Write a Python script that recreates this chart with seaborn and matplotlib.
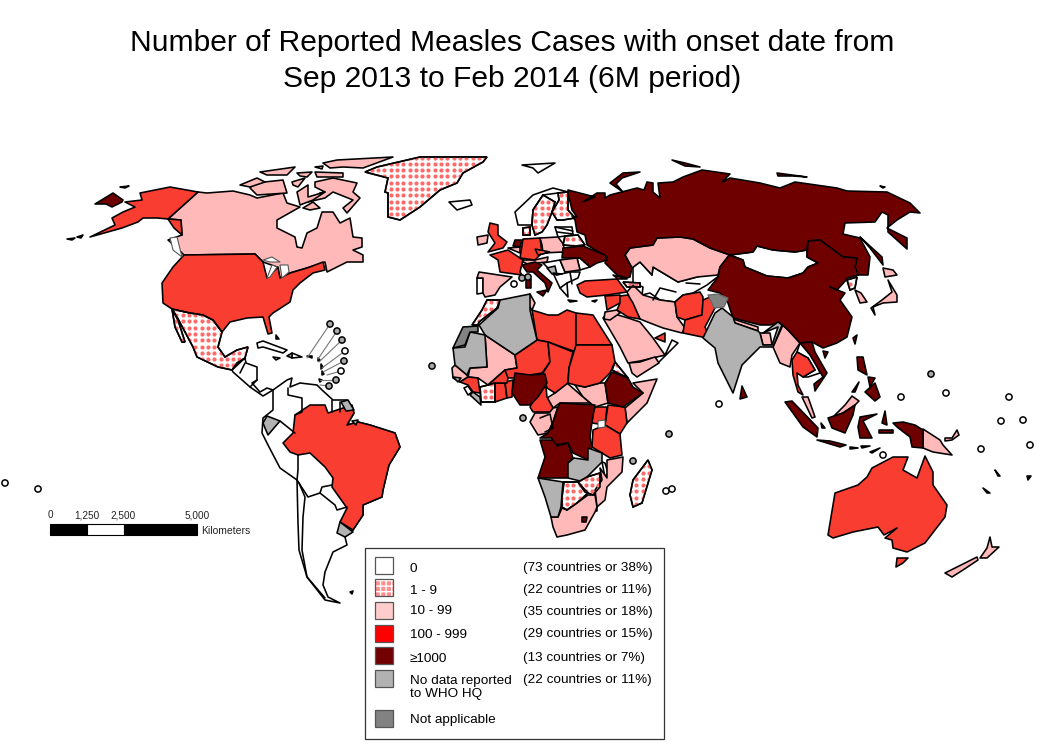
import numpy as np
import pandas as pd
import matplotlib
matplotlib.use("Agg")
import matplotlib.pyplot as plt
from matplotlib.patches import Polygon, Rectangle
import seaborn as sns

# Outlines, in picture pixels (x, y)
zero_shapes = [
    # South America outline, countries get drawn on top
    [(273,390),(287,380),(292,378),(290,387),(300,383),(317,385),(322,390),(333,400),(347,400),(354,413),(347,425),(358,422),(370,425),(395,433),(400,447),(389,465),(383,490),(382,497),(363,505),(363,515),(353,530),(345,537),(347,545),(333,552),(325,572),(323,585),(328,597),(340,603),(325,600),(307,577),(299,550),(298,523),(297,480),(280,468),(268,445),(262,433),(263,418),(273,410)],
    # Central America
    [(232,370),(245,358),(246,363),(257,367),(257,380),(252,383),(260,392),(267,388),(273,390),(263,396),(250,387),(233,372)],
    # Cuba, Hispaniola east, Jamaica, Puerto Rico
    [(257,343),(263,341),(287,350),(283,353),(263,347),(258,348)],
    [(292,353),(302,357),(292,358)],
    [(273,357),(280,358),(276,360)],
    [(307,356),(312,356),(312,358)],
    # Iceland, Svalbard, Norway
    [(449,202),(470,200),(472,205),(457,210)],
    [(522,165),(555,163),(538,173),(533,168)],
    [(515,212),(533,195),(553,188),(568,192),(558,193),(543,195),(533,210),(532,225),(518,225)],
    # Portugal, Baltics, Balkans, Central Asia
    [(477,278),(483,278),(483,293),(477,294)],
    [(555,227),(572,227),(573,235),(558,237)],
    [(543,263),(560,260),(565,272),(580,272),(578,278),(567,283),(568,297),(560,288),(553,273)],
    [(580,258),(590,267),(580,270),(577,258)],
    [(633,267),(640,262),(652,275),(653,267),(678,282),(697,277),(710,273),(720,275),(707,285),(693,293),(683,295),(675,302),(660,300),(650,293),(642,295),(643,287),(633,283)],
    # Mongolia
    [(730,255),(753,252),(757,246),(773,250),(795,252),(807,250),(807,257),(818,263),(808,267),(803,273),(788,278),(767,276),(745,267),(743,260)],
    # Oman, Laos and Cambodia
    [(665,355),(672,340),(678,343),(658,363),(655,357)],
    [(800,343),(812,352),(820,373),(808,377),(803,377),(815,370),(808,358),(797,352)],
    # Sierra Leone, Malawi
    [(464,388),(468,386),(472,392),(468,395)],
    [(602,462),(605,463),(608,473),(605,477)],
    # Swaziland
    [(593,507),(597,507),(597,511),(593,511)],
]

hatched_shapes = [
    # Greenland
    [(365,172),(377,167),(420,157),(487,157),(483,162),(463,173),(457,183),(440,190),(420,207),(400,220),(388,217),(388,193),(385,192),(388,178)],
    # Mexico and Baja
    [(172,309),(190,313),(203,315),(213,320),(222,332),(218,347),(225,357),(237,350),(248,347),(245,358),(237,363),(232,370),(218,367),(197,357),(193,347),(177,317)],
    [(172,309),(178,320),(185,342),(182,342),(175,327)],
    # Morocco
    [(472,325),(482,310),(487,300),(500,300),(497,308),(479,322),(478,325)],
    # Sweden, Finland, Belarus, Denmark, Czechia
    [(533,210),(543,195),(555,202),(552,212),(547,225),(542,232),(535,235),(532,225)],
    [(558,193),(568,192),(568,210),(575,218),(563,220),(557,220),(552,212),(559,200)],
    [(565,236),(578,235),(585,245),(575,246),(563,245)],
    [(523,228),(530,227),(530,235),(523,235)],
    [(535,249),(550,252),(538,255)],
    # Georgia, Armenia
    [(623,282),(640,283),(640,287),(627,287)],
    # Cote d'Ivoire, Eritrea, Botswana, Zimbabwe, Madagascar
    [(480,387),(488,385),(495,383),(495,402),(481,402)],
    [(612,370),(615,362),(628,378)],
    [(564,482),(578,482),(588,493),(577,503),(567,510),(562,507),(562,497)],
    [(578,482),(587,477),(600,473),(600,487),(593,495),(585,492)],
    [(630,495),(633,480),(648,460),(652,470),(642,503),(633,507)],
    # North Korea
    [(847,280),(857,277),(855,288),(850,290)],
]

pink_shapes = [
    # Canada mainland, Arctic islands
    [(198,192),(207,193),(233,191),(250,195),(257,198),(283,193),(287,203),(300,207),(277,220),(277,228),(295,237),(297,247),(302,248),(307,233),(317,228),(322,212),(333,212),(340,223),(350,218),(353,237),(362,238),(362,247),(353,250),(363,255),(363,262),(353,262),(347,262),(327,272),(325,262),(317,265),(290,273),(280,278),(277,267),(263,262),(255,254),(184,255),(177,248),(168,240),(182,235),(181,220),(168,219)],
    [(315,182),(333,178),(357,183),(353,192),(360,198),(347,213),(343,208),(353,200),(333,192),(325,198),(308,202),(320,193),(325,192),(315,187)],
    [(255,183),(283,180),(287,193),(257,195),(250,188)],
    [(240,185),(257,178),(265,182),(250,187)],
    [(292,182),(305,178),(298,187),(293,185)],
    [(260,172),(295,167),(287,175),(267,175)],
    [(297,173),(312,172),(307,177),(300,176)],
    [(315,172),(343,173),(343,177),(317,177)],
    [(315,167),(323,166),(322,169)],
    [(323,163),(337,160),(393,157),(363,168),(343,167),(330,168)],
    [(297,192),(308,185),(308,197),(325,192),(313,200),(300,205)],
    [(303,208),(313,202),(320,208),(310,210)],
    # Spain, Ireland, Poland, Belgium, Austria, Romania
    [(479,272),(512,277),(500,287),(495,295),(485,297),(483,293),(483,278),(477,278)],
    [(477,237),(488,235),(487,243),(478,245)],
    [(540,238),(558,237),(564,245),(563,252),(543,253),(542,245)],
    [(508,248),(520,247),(520,253)],
    [(520,260),(535,260),(548,257),(547,262),(527,264)],
    [(560,260),(577,258),(580,270),(565,272)],
    # Tunisia, Mali, Senegal
    [(530,294),(535,303),(532,310),(527,303)],
    [(485,335),(515,355),(517,368),(505,370),(488,385),(478,378),(468,377),(470,368),(487,367)],
    [(452,368),(455,365),(467,375),(468,377),(460,382),(453,378)],
    # Middle Africa
    [(575,385),(585,387),(600,383),(605,383),(608,403),(595,407),(583,397)],
    [(547,398),(555,393),(567,383),(583,397),(590,403),(560,403),(553,408)],
    [(530,422),(535,413),(548,413),(553,408),(558,407),(553,422),(548,433),(538,435)],
    [(633,383),(657,379),(647,403),(627,423),(625,408),(643,393)],
    [(623,457),(622,472),(607,487),(605,500),(597,507),(595,490),(602,480),(600,468),(607,478),(607,460)],
    [(551,517),(558,517),(562,508),(567,510),(577,503),(588,495),(595,495),(597,507),(595,512),(585,530),(567,535),(557,537),(553,527)],
    # Middle East
    [(603,318),(608,312),(628,318),(640,322),(653,338),(665,355),(640,361),(628,363),(620,347)],
    [(605,312),(617,310),(620,313),(610,320),(604,319)],
    [(633,285),(643,295),(660,300),(675,302),(677,317),(685,328),(682,333),(663,328),(650,323),(640,319),(632,303),(627,292)],
    [(629,363),(640,362),(655,357),(659,363),(637,377),(632,373)],
    # Kazakhstan
    [(630,248),(653,245),(657,238),(680,237),(693,239),(710,248),(730,255),(720,267),(718,275),(697,277),(678,282),(653,267),(652,275),(640,262),(632,268),(625,255)],
    # Nepal, Bangladesh, Myanmar, Peninsular Malaysia
    [(733,319),(758,327),(758,331),(735,323)],
    [(760,333),(770,333),(772,345),(763,345)],
    [(783,325),(790,332),(800,343),(792,355),(790,367),(780,363),(773,347)],
    [(802,397),(808,397),(815,417),(812,418)],
    # Sabah and Sarawak, Papua New Guinea, New Britain
    [(834,416),(845,405),(852,396),(859,401),(855,405),(843,413)],
    [(923,429),(940,440),(943,445),(952,455),(933,452),(923,448)],
    [(945,438),(952,438),(957,430),(959,435),(952,440),(945,441)],
    # South Korea, Japan
    [(855,290),(861,293),(867,302),(860,303)],
    [(888,280),(897,295),(897,302),(883,303),(873,307),(875,315),(871,308),(882,300),(892,292)],
    [(883,268),(893,270),(897,275),(885,277)],
    # New Zealand
    [(945,573),(977,557),(978,560),(963,570),(952,577)],
    [(980,558),(987,548),(990,537),(992,547),(999,547),(987,558)],
]

red_shapes = [
    # USA, Alaska
    [(184,255),(255,254),(263,262),(267,278),(278,267),(280,278),(290,273),(307,268),(323,262),(325,270),(313,273),(300,283),(293,290),(290,302),(273,313),(269,317),(272,333),(268,334),(263,317),(247,318),(230,322),(222,332),(213,320),(203,315),(190,313),(172,309),(163,303),(162,283),(173,267)],
    [(198,192),(168,219),(157,218),(143,218),(138,222),(122,228),(90,237),(115,225),(112,218),(123,212),(135,207),(125,202),(142,200),(140,193),(170,187)],
    [(168,219),(181,220),(182,235),(174,228)],
    # Brazil
    [(295,415),(310,405),(325,405),(328,413),(352,405),(354,413),(347,425),(358,422),(370,425),(395,433),(400,447),(389,465),(383,490),(382,497),(363,505),(363,515),(353,530),(340,522),(347,508),(332,487),(333,478),(325,467),(310,453),(298,455),(290,452),(283,443),(293,433)],
    # UK, France, Germany, Turkey, Syria, Iraq, UAE
    [(490,223),(498,225),(498,235),(507,242),(503,248),(488,252),(495,243),(488,232)],
    [(490,255),(508,250),(523,260),(520,272),(522,275),(500,272),(498,260)],
    [(523,239),(540,238),(542,253),(535,260),(520,258)],
    [(577,285),(585,281),(617,279),(627,292),(607,295),(587,297),(580,293)],
    [(605,296),(620,295),(620,303),(607,310)],
    [(620,296),(628,295),(633,303),(640,319),(628,317),(617,310),(620,303)],
    [(655,338),(665,333),(665,342)],
    [(613,275),(627,279),(618,279)],
    # Afghanistan, Pakistan
    [(675,302),(683,295),(700,292),(703,297),(703,303),(702,315),(685,320),(677,317)],
    [(685,320),(702,315),(703,300),(710,297),(715,308),(705,327),(710,338),(702,337),(683,333)],
    # North and Central Africa
    [(532,310),(548,315),(558,315),(567,310),(576,313),(576,352),(548,342),(537,340)],
    [(537,340),(548,342),(550,362),(542,373),(530,375),(517,378),(505,378),(505,370),(517,368),(515,355)],
    [(548,342),(573,352),(569,368),(568,383),(555,393),(547,388),(543,373),(550,362)],
    [(576,313),(593,315),(612,345),(576,345)],
    [(576,345),(612,345),(615,362),(610,373),(600,383),(585,387),(575,385),(568,383),(569,368)],
    # Cameroon, Ghana, Benin, Burkina, Guinea
    [(546,387),(547,397),(553,408),(550,412),(533,412),(530,407),(535,398),(542,388)],
    [(495,383),(505,383),(507,398),(495,402)],
    [(505,382),(513,380),(512,397),(507,398)],
    [(488,385),(505,370),(508,378),(507,383),(495,383)],
    [(460,382),(468,377),(478,378),(480,393),(473,392),(468,385)],
    # Kenya, Uganda, Tanzania
    [(608,405),(625,407),(627,423),(620,434),(605,425)],
    [(595,407),(607,407),(605,425),(592,423),(593,413)],
    [(593,430),(605,425),(620,434),(622,455),(610,458),(602,453),(592,447)],
    # Thailand
    [(797,352),(808,358),(815,370),(803,377),(797,373),(798,385),(803,395),(798,392),(793,375),(792,360)],
    # Australia, Tasmania
    [(828,535),(835,493),(858,485),(867,477),(872,468),(893,457),(908,457),(903,470),(917,478),(925,456),(933,472),(933,485),(947,505),(945,517),(925,543),(907,552),(893,548),(892,540),(885,538),(897,528),(884,535),(878,527),(853,532),(833,538)],
    [(897,558),(908,558),(903,563),(896,567)],
]

dark_shapes = [
    # Chukotka tip and small Pacific pieces
    [(95,204),(113,193),(123,200),(122,202),(112,207),(106,204)],
    [(67,239),(75,238),(72,240)],
    [(77,237),(83,235),(81,238)],
    [(120,187),(129,186),(125,188)],
    # Russia and its islands
    [(568,190),(595,197),(583,202),(597,193),(605,193),(605,198),(610,195),(637,188),(644,190),(647,182),(653,183),(653,192),(660,198),(658,183),(673,182),(683,177),(702,170),(730,174),(722,182),(730,178),(760,183),(780,188),(795,182),(837,188),(847,191),(887,192),(910,203),(920,213),(910,212),(897,220),(887,228),(907,238),(907,249),(888,232),(888,215),(882,212),(875,222),(845,223),(843,234),(860,238),(870,257),(868,275),(858,275),(855,267),(857,258),(843,257),(820,240),(808,241),(807,250),(795,252),(773,250),(757,246),(753,252),(730,255),(710,248),(693,239),(680,237),(657,238),(653,245),(630,248),(625,255),(632,268),(630,277),(627,278),(617,275),(605,263),(607,257),(587,245),(585,235),(577,232),(575,220),(572,216),(577,217),(572,210),(568,193)],
    [(610,183),(623,173),(640,172),(622,178),(616,184),(623,192)],
    [(672,160),(685,163),(700,167),(685,166)],
    [(777,173),(807,177),(793,176),(778,176)],
    [(860,237),(882,257),(883,265),(870,248)],
    [(880,186),(885,187),(883,188)],
    # China
    [(729,255),(743,260),(745,267),(767,276),(788,278),(803,273),(808,267),(818,263),(807,257),(808,241),(820,240),(843,257),(857,258),(855,267),(858,275),(848,278),(837,290),(830,287),(845,293),(840,300),(852,317),(847,337),(837,343),(823,348),(812,342),(800,343),(788,330),(780,323),(770,325),(760,325),(733,318),(728,303),(720,293),(708,290),(718,277),(720,267)],
    # Europe: Netherlands, Italy, Sicily, Sardinia, Ukraine
    [(515,240),(522,240),(520,247),(513,246)],
    [(522,265),(535,262),(542,265),(537,270),(552,283),(548,292),(545,283),(533,272),(527,272)],
    [(537,292),(547,290),(543,296)],
    [(526,280),(531,279),(531,288),(526,288)],
    [(563,248),(583,246),(605,255),(607,260),(597,263),(590,267),(580,258),(562,258)],
    # Africa: Nigeria, Ethiopia, DRC, Angola, Lesotho
    [(515,373),(530,375),(545,374),(547,383),(538,397),(530,405),(520,405),(512,393)],
    [(605,383),(612,372),(628,378),(633,387),(643,393),(623,407),(608,403)],
    [(560,403),(595,405),(592,422),(590,437),(592,447),(588,460),(573,453),(568,443),(553,445),(552,438),(540,438),(548,433),(553,422),(558,407)],
    [(540,440),(553,440),(557,446),(568,443),(573,458),(568,463),(568,478),(538,478),(545,457)],
    [(582,517),(587,517),(586,522),(582,522)],
    # Asia: Vietnam, Sri Lanka, Sumatra, Java, Borneo, Sulawesi, Philippines, Taiwan, Hainan
    [(800,343),(812,342),(815,352),(827,373),(815,391),(814,384),(823,377),(810,355)],
    [(742,386),(747,397),(740,399)],
    [(785,402),(792,401),(818,428),(817,437),(803,427)],
    [(817,440),(830,441),(846,445),(840,447)],
    [(828,418),(834,416),(843,413),(855,405),(853,415),(845,433),(832,428)],
    [(860,417),(877,414),(863,421),(872,438),(860,438),(858,427)],
    [(857,357),(863,357),(867,375),(858,370)],
    [(865,392),(875,383),(880,397),(875,401)],
    [(868,377),(875,378),(870,387)],
    [(852,392),(859,382),(855,392)],
    [(853,338),(857,335),(855,344)],
    [(823,351),(828,352),(825,358)],
    [(882,423),(885,411),(887,425)],
    [(879,430),(893,430),(893,433),(879,433)],
    # West Papua, Lesser Sunda pieces
    [(893,423),(903,422),(915,425),(923,430),(923,448),(912,447),(910,437),(897,427)],
    [(850,447),(858,448),(850,449)],
    [(861,446),(870,446),(862,448)],
    [(870,452),(880,448),(872,453)],
    [(821,423),(825,428),(822,428)],
]

grey_shapes = [
    # Algeria, Mauritania, Namibia, Zambia
    [(479,325),(498,308),(500,300),(530,294),(530,310),(537,340),(515,355),(485,335)],
    [(453,348),(465,347),(470,332),(485,335),(487,367),(470,368),(467,375),(455,365)],
    [(538,478),(563,482),(561,507),(558,517),(551,517),(545,497)],
    [(588,448),(602,453),(602,462),(587,477),(580,481),(568,478),(568,463),(574,458),(588,460)],
    # Liberia, Guinea-Bissau
    [(470,395),(473,392),(480,397),(481,405)],
    [(453,377),(461,378),(458,382)],
    # Ecuador, French Guiana, Uruguay, Haiti
    [(263,423),(267,416),(280,421),(268,435),(265,428)],
    [(341,402),(348,400),(354,410),(346,411)],
    [(352,421),(358,420),(356,425)],
    [(340,522),(353,532),(345,537),(337,533)],
    [(287,356),(292,353),(292,358)],
    # India, Bosnia area, Bhutan area
    [(703,338),(715,313),(722,308),(733,317),(735,323),(758,331),(760,333),(763,345),(772,345),(778,327),(763,333),(778,322),(782,325),(773,347),(760,347),(742,365),(733,393),(718,363),(715,348)],
    [(547,268),(555,266),(557,275),(552,274)],
]

na_shapes = [
    # Western Sahara
    [(453,348),(463,327),(478,326),(478,332),(470,332),(465,345)],
]

disputed_shapes = [
    # Kashmir
    [(708,295),(718,294),(728,298),(724,307),(714,308)],
]

lake_shapes = [
    # BC coast, Great Lakes, Lake Victoria
    [(170,238),(177,237),(182,257),(173,250)],
    [(263,260),(272,257),(280,262),(270,262)],
    [(267,278),(272,265),(277,267),(270,277)],
    [(280,265),(288,265),(289,272),(282,278)],
    [(598,421),(605,420),(605,427),(598,428)],
]

black_bits = [
    # Falklands, Crete, Cyprus, New Caledonia, Vanuatu, Fiji, Bahamas, Lesser Antilles
    [(350,592),(353,591),(352,594)],
    [(568,300),(577,301),(570,302)],
    [(592,301),(597,300),(595,302)],
    [(983,488),(990,493),(987,493)],
    [(995,470),(1000,476),(998,476)],
    [(1027,476),(1031,476),(1028,480)],
    [(276,335),(279,339),(276,339)],
    [(318,358),(320,360),(318,361)],
    [(321,364),(323,367),(321,369)],
    [(322,371),(324,374),(322,375)],
    [(319,379),(322,380),(320,382)],
]

border_lines = [
    # South America
    [(288,388),(288,395),(302,398),(302,412),(295,415)],
    [(280,421),(295,433)],
    [(298,455),(298,470),(297,480)],
    [(297,480),(308,497),(320,493),(322,487),(332,485)],
    [(320,493),(335,505),(337,510),(347,507)],
    [(299,483),(305,497),(303,517),(302,550),(307,577),(325,598)],
    [(332,400),(332,412)],
    [(340,402),(340,412)],
    # Central America
    [(240,373),(245,363)],
    [(250,387),(257,380)],
    # Europe and Africa inner lines
    [(540,418),(550,414),(553,428),(545,432)],
    [(557,275),(570,272),(572,284)],
    [(553,273),(562,274)],
    [(560,288),(567,283)],
    [(555,227),(573,231)],
    [(557,232),(573,234)],
    [(653,300),(660,288),(676,292)],
    [(686,283),(700,284)],
]

# x, y, kind of the small island markers
island_x = [330,337,342,345,344,341,336,329, 432,523,669,633,666,672, 931,901,946,1009,1001,1023,1030,981,883,719, 5,38, 514,522,528]
island_y = [324,331,340,351,361,371,380,386, 366,418,434,461,491,489, 374,397,393,397,421,420,445,449,455,404, 483,489, 284,278,277]
island_kind = ["grey","grey","grey","white","grey","white","grey","grey",
               "grey","grey","grey","grey","white","white",
               "grey","white","white","white","white","white","white","white","white","white",
               "white","white","white","grey","grey"]

# leader line ends in the Caribbean, same order as the first eight markers
leader_x = [307,318,319,322,323,327,320,320]
leader_y = [358,359,362,368,372,375,380,385]

legend_labels = ["0", "1 - 9", "10 - 99", "100 - 999", "\u22651000", "No data reported\nto WHO HQ", "Not applicable"]
legend_counts = ["(73 countries or 38%)", "(22 countries or 11%)", "(35 countries or 18%)",
                 "(29 countries or 15%)", "(13 countries or 7%)", "(22 countries or 11%)", ""]
legend_colors = ["#ffffff", "#ff8f8f", "#ffcccc", "#ff0000", "#730000", "#b2b2b2", "#828282"]

scale_km = [0, 1250, 2500, 5000]
scale_labels = ["0", "1,250", "2,500", "5,000"]

PINK = "#ffb9b9"
RED = "#f93d30"
DARK = "#6e0000"
GREY = "#b2b2b2"
NOT_APPLICABLE = "#828282"
DOT = "#ff6b6b"
LINE_W = 1.15

sns.set_theme(style="white")
plt.rcParams['font.family'] = ['Liberation Sans', 'DejaVu Sans']

fig, ax = plt.subplots(figsize=(10.42, 7.43), dpi=100)
ax.set_position([0, 0, 1, 1])
ax.set_xlim(0, 1042)
ax.set_ylim(743, 0)
ax.set_autoscale_on(False)
ax.axis("off")


def draw_shapes(shapes, face, edge="black", width=LINE_W):
    for pts in shapes:
        ax.add_patch(Polygon(pts, closed=True, facecolor=face, edgecolor=edge,
                             linewidth=width, joinstyle="round"))


def draw_hatched(shapes, step=6.3):
    # regular dot pattern clipped to each outline
    for pts in shapes:
        outline = Polygon(pts, closed=True, facecolor="white", edgecolor="black",
                          linewidth=LINE_W, zorder=1)
        ax.add_patch(outline)
        arr = np.array(pts)
        gx = np.arange(arr[:, 0].min() // step * step, arr[:, 0].max() + step, step)
        gy = np.arange(arr[:, 1].min() // step * step, arr[:, 1].max() + step, step)
        xx, yy = np.meshgrid(gx, gy)
        dots = ax.scatter(xx.ravel(), yy.ravel(), s=9, color=DOT, linewidths=0, zorder=1.1)
        dots.set_clip_path(outline)
        ax.add_patch(Polygon(pts, closed=True, facecolor="none", edgecolor="black",
                             linewidth=LINE_W, zorder=1.2))


draw_shapes(zero_shapes, "white")
draw_hatched(hatched_shapes)
for group, colour in [(pink_shapes, PINK), (red_shapes, RED), (dark_shapes, DARK),
                      (grey_shapes, GREY), (na_shapes, NOT_APPLICABLE)]:
    draw_shapes(group, colour)
draw_shapes(disputed_shapes, NOT_APPLICABLE, edge="#666666", width=0.9)
draw_shapes(lake_shapes, "white", edge="#555555", width=0.8)
draw_shapes(black_bits, "black")

for line in border_lines:
    xs, ys = zip(*line)
    ax.plot(xs, ys, color="black", lw=LINE_W, solid_joinstyle="round")

for x0, y0, x1, y1 in zip(island_x, island_y, leader_x, leader_y):
    ax.plot([x0, x1], [y0, y1], color="#777777", lw=0.8, zorder=2)

islands = pd.DataFrame({"x": island_x, "y": island_y, "kind": island_kind})
sns.scatterplot(data=islands, x="x", y="y", hue="kind",
                palette={"grey": "#a8a8a8", "white": "white"},
                s=20, edgecolor="black", linewidth=1.1, legend=False, ax=ax, zorder=3)
ax.set_xlim(0, 1042)
ax.set_ylim(743, 0)
ax.axis("off")

ax.text(512, 43, "Number of Reported Measles Cases with onset date from", ha="center", va="center",
        fontsize=21.6, color="black")
ax.text(512, 79, "Sep 2013 to Feb 2014 (6M period)", ha="center", va="center",
        fontsize=21.6, color="black")

# scale bar
bar_left, bar_right = 50, 197
km_to_px = (bar_right - bar_left) / scale_km[-1]
for km, label in zip(scale_km, scale_labels):
    ax.text(bar_left + km * km_to_px, 515, label, ha="center", va="center", fontsize=7.2, color="#222222")
for i, (a, b) in enumerate(zip(scale_km[:-1], scale_km[1:])):
    ax.add_patch(Rectangle((bar_left + a * km_to_px, 524), (b - a) * km_to_px, 11,
                           facecolor="white" if i == 1 else "black", edgecolor="black", linewidth=0.8))
ax.text(201, 531, "Kilometers", ha="left", va="center", fontsize=7.5, color="#222222")

# legend box
ax.add_patch(Rectangle((365, 548), 299, 191, facecolor="white", edgecolor="#333333", linewidth=0.9, zorder=4))
swatch_tops = [557, 579, 602, 625, 647, 670, 710]
label_rows = [568, 590, 611, 634, 658, 687, 720]
count_rows = [568, 590, 611, 634, 658, 679, 720]
for i, label in enumerate(legend_labels):
    hatch = "+++" if label == "1 - 9" else None
    ax.add_patch(Rectangle((375, swatch_tops[i]), 18, 17, facecolor=legend_colors[i],
                           edgecolor="white" if hatch else "none", hatch=hatch, linewidth=0, zorder=5))
    ax.add_patch(Rectangle((375, swatch_tops[i]), 18, 17, facecolor="none",
                           edgecolor="#555555", linewidth=0.9, zorder=5.1))
    ax.text(410, label_rows[i] + 0.5, label, ha="left", va="center", fontsize=9.7, color="black", zorder=5)
    ax.text(523, count_rows[i] + 0.5, legend_counts[i], ha="left", va="center", fontsize=9.7, color="black", zorder=5)

fig.savefig("out.png", dpi=100)
